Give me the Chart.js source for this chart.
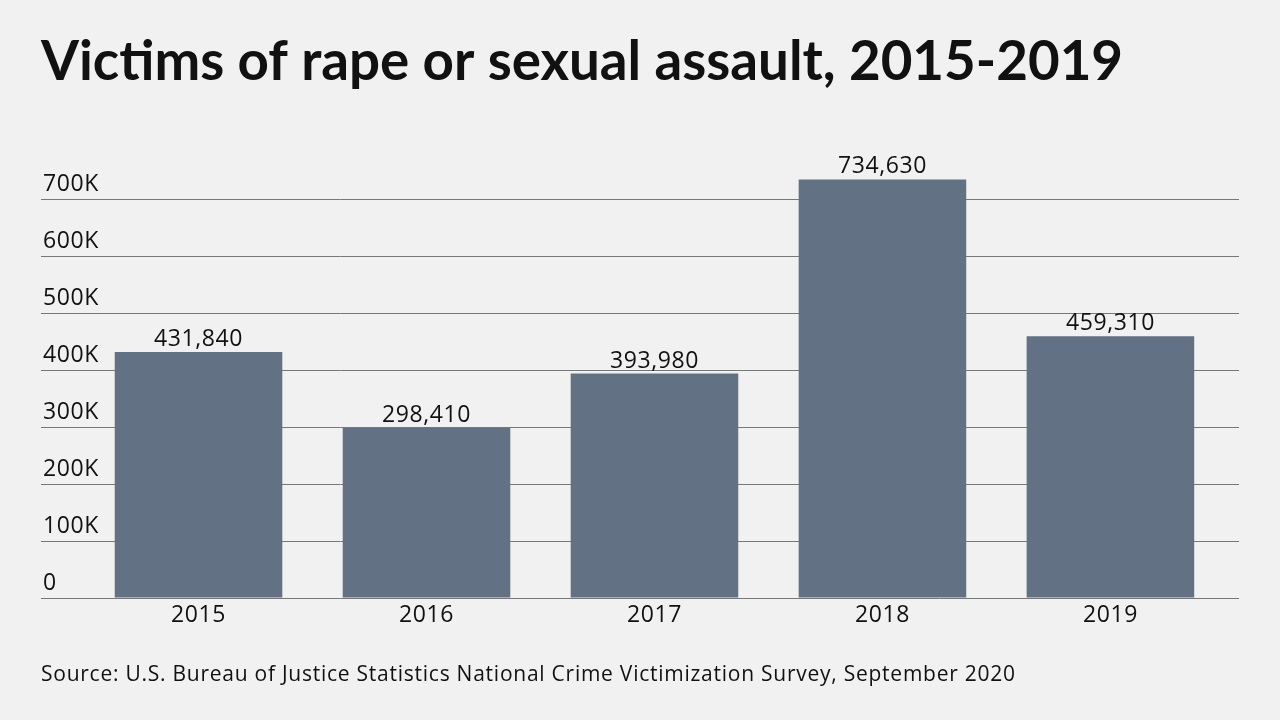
<!DOCTYPE html>
<html>
<head>
<meta charset="utf-8">
<script src="https://cdn.jsdelivr.net/npm/chart.js@4"></script>
<style>
  html, body { margin: 0; padding: 0; background: #f0f1f0; }
  #wrap { position: relative; width: 1280px; height: 720px; }
</style>
</head>
<body>
<div id="wrap"><canvas id="chart"></canvas></div>
<script>
// data
const years = ['2015', '2016', '2017', '2018', '2019'];
const victims = [431840, 298410, 393980, 734630, 459310];
const yTicks = [0, 100000, 200000, 300000, 400000, 500000, 600000, 700000];
const yTickLabels = ['0', '100K', '200K', '300K', '400K', '500K', '600K', '700K'];

const titleText = 'Victims of rape or sexual assault, 2015-2019';
const sourceText = 'Source: U.S. Bureau of Justice Statistics National Crime Victimization Survey, September 2020';

const bodyFont = '"Open Sans", sans-serif';

// a bit of tracking for every label the chart draws
const spacing = {
  id: 'spacing',
  beforeDraw(chart) {
    chart.ctx.letterSpacing = '0.6px';
  }
};

// value labels above each bar
const barLabels = {
  id: 'barLabels',
  afterDatasetsDraw(chart) {
    const ctx = chart.ctx;
    const meta = chart.getDatasetMeta(0);
    ctx.save();
    ctx.font = '23px ' + bodyFont;
    ctx.fillStyle = '#111';
    ctx.textAlign = 'center';
    ctx.textBaseline = 'alphabetic';
    meta.data.forEach((bar, i) => {
      ctx.fillText(victims[i].toLocaleString('en-US'), bar.x, bar.y - 6);
    });
    ctx.restore();
  }
};

// title and source line
const headerFooter = {
  id: 'headerFooter',
  afterDraw(chart) {
    const ctx = chart.ctx;
    ctx.save();
    ctx.fillStyle = '#111';
    ctx.textAlign = 'left';
    ctx.textBaseline = 'alphabetic';
    ctx.letterSpacing = '0px';
    ctx.font = 'bold 54.7px Lato, sans-serif';
    ctx.fillText(titleText, 41, 80);
    ctx.letterSpacing = '0.75px';
    ctx.font = '21px ' + bodyFont;
    ctx.fillText(sourceText, 41, 681);
    ctx.restore();
  }
};

new Chart(document.getElementById('chart'), {
  type: 'bar',
  data: {
    datasets: [{
      data: victims.map((v, i) => ({ x: i, y: v })),
      backgroundColor: '#637184',
      borderWidth: 0,
      barPercentage: 0.735,
      categoryPercentage: 1
    }]
  },
  options: {
    responsive: true,
    maintainAspectRatio: false,
    animation: false,
    layout: { padding: { left: 41, right: 41, top: 165, bottom: 82 } },
    plugins: {
      legend: { display: false },
      tooltip: { enabled: false }
    },
    scales: {
      x: {
        type: 'linear',
        offset: false,
        min: -0.691,
        max: 4.564,
        afterBuildTicks: (scale) => { scale.ticks = years.map((y, i) => ({ value: i })); },
        afterFit: (scale) => { scale.height = 40; },
        grid: { display: false },
        border: { display: false },
        ticks: {
          color: '#111',
          font: { family: bodyFont, size: 23 },
          padding: -4,
          callback: (v) => years[v]
        }
      },
      y: {
        min: 0,
        max: 760000,
        afterBuildTicks: (scale) => { scale.ticks = yTicks.map(v => ({ value: v })); },
        afterFit: (scale) => { scale.width = 0; },
        border: { display: false },
        grid: { color: '#777', lineWidth: 1, drawTicks: false },
        ticks: {
          mirror: true,
          padding: 2,
          labelOffset: -15,
          color: '#111',
          font: { family: bodyFont, size: 23 },
          callback: (v) => yTickLabels[yTicks.indexOf(v)]
        }
      }
    }
  },
  plugins: [spacing, barLabels, headerFooter]
});
</script>
</body>
</html>
